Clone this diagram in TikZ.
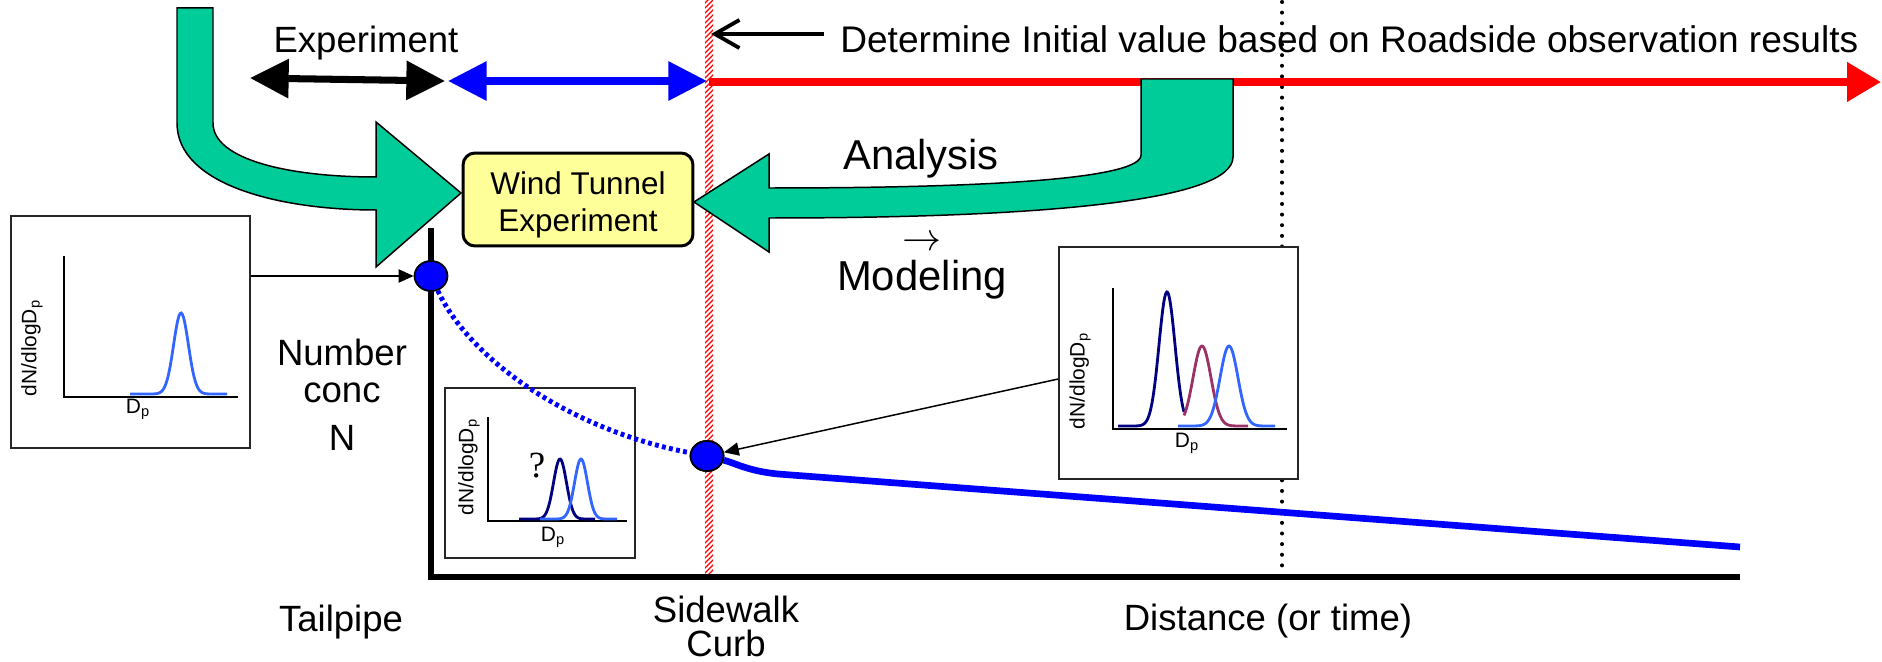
\documentclass[tikz,border=0pt]{standalone}
\usepackage{fix-cm}
\usepackage{graphicx}
\usepackage{fontspec}
\setmainfont{Liberation Sans}
\newfontfamily\qfont{Liberation Serif}
\usetikzlibrary{arrows.meta,shapes.geometric,calc}

\definecolor{arrowgreen}{RGB}{0,204,153}
\definecolor{wtyellow}{RGB}{255,255,153}
\definecolor{psdlight}{RGB}{51,102,255}
\definecolor{psdnavy}{RGB}{0,0,128}
\definecolor{psdmaroon}{RGB}{153,51,102}

\tikzset{
  lbl/.style={font=\fontsize{20.8pt}{25pt}\selectfont, inner sep=0pt},
  biglbl/.style={font=\fontsize{23.8pt}{28pt}\selectfont, inner sep=0pt},
  smalllbl/.style={font=\fontsize{11.9pt}{14pt}\selectfont, inner sep=0pt},
  wtbox/.style={draw=black, line width=1.7pt, fill=wtyellow, rounded corners=0.24cm,
    minimum width=4.6cm, minimum height=1.86cm, inner sep=0pt},
  wttext/.style={font=\fontsize{17.9pt}{21pt}\selectfont, align=center, inner sep=0pt},
  inset/.style={draw=black!85, line width=0.9pt, fill=white, inner sep=0pt},
  psdaxis/.style={line width=1.1pt},
  psdcurve/.style={line width=1.6pt},
  mainaxis/.style={line width=3.4pt},
  bigdot/.style={ellipse, draw=black, line width=1pt, fill=blue,
    minimum width=0.66cm, minimum height=0.6cm, inner sep=0pt},
  bendarrow/.style={fill=arrowgreen, draw=black, line width=0.85pt, line join=miter},
  conn/.style={line width=0.85pt, -{Triangle[length=8.5pt,width=7.5pt]}},
  spanarrow/.style={line width=4pt, {Triangle[length=22pt,width=21.5pt]}-{Triangle[length=22pt,width=21.5pt]}},
}

\begin{document}
\begin{tikzpicture}[x=0.02cm, y=-0.02cm]
\useasboundingbox (0,0) rectangle (1882,662);

% ---- reference points ----
\coordinate (expL) at (250,78);
\coordinate (expR) at (445,81);
\coordinate (modL) at (448,81);
\coordinate (curbTop) at (707,81);
\coordinate (obsL) at (709,82);
\coordinate (obsR) at (1881,82);
\coordinate (origin) at (431,577);
\coordinate (yTop) at (431,228);
\coordinate (xEnd) at (1740,577);
\coordinate (decayEnd) at (1740,547);

% ---- sidewalk curb line (hatched) ----
\begin{scope}
  \clip (705,0) rectangle (713,577);
  \fill[white] (705,0) rectangle (713,577);
  \foreach \k in {-3,...,120}
    \draw[red, line width=0.75pt] (702,{5*\k+11}) -- (716,{5*\k-3});
\end{scope}

% ---- dotted distance marker ----
\draw[line width=2.3pt, dash pattern=on 0pt off 6.05pt, line cap=round] (1282,2) -- (1282,577);

% ---- time-span arrows ----
\draw[spanarrow, black] (expL) -- (expR);
\draw[spanarrow, blue] (modL) -- (curbTop);
\draw[line width=4.5pt, red, -{Triangle[length=19.3pt,width=21.5pt]}] (obsL) -- (obsR);

% ---- labels on top ----
\node[lbl, anchor=base] (exptext) at (366,53) {Experiment};
\node[lbl, anchor=base west, font=\fontsize{21.1pt}{25pt}\selectfont] (det) at (840,53) {Determine Initial value based on Roadside observation results};
\coordinate (detArrow) at (824,34);
\coordinate (detTip) at (711,34);
\draw[line width=2.2pt, -{Straight Barb[length=14pt,width=16pt]}] (detArrow) -- (detTip);

% ---- bent green arrows ----
\draw[bendarrow] (177,8) -- (177,123)
  .. controls (177,185) and (280,210) .. (376,210)
  -- (376,267) -- (461,193) -- (376,122) -- (376,177)
  .. controls (290,177) and (213,160) .. (213,123)
  -- (213,8) -- cycle;
\draw[bendarrow] (1141,79) -- (1141,155)
  .. controls (1141,178) and (1000,188) .. (769,188)
  -- (769,154) -- (694,202) -- (769,252) -- (769,218)
  .. controls (1050,218) and (1233,200) .. (1233,157)
  -- (1233,79) -- cycle;

% ---- wind tunnel box ----
\node[wtbox] (wt) at (578,199.5) {};
\node[wttext] (wtlabel) at (578,205) {Wind Tunnel\\Experiment};

\node[biglbl, anchor=base] (ana) at (921,170) {Analysis};
\node[inner sep=0pt] (toarrow) at (921.5,243) {\resizebox{0.78cm}{!}{$\rightarrow$}};
\node[biglbl, anchor=base] (mod) at (922,290) {Modeling};

% ---- main axes ----
\draw[mainaxis] (yTop) -- (origin) -- (xEnd);

\node[lbl, anchor=base] (num) at (342,365) {Number};
\node[lbl, anchor=base] (conc) at (342,402) {conc};
\node[lbl, anchor=base] (nlbl) at (342,450) {N};

\node[lbl, anchor=base] (tail) at (341,631) {Tailpipe};
\node[lbl, anchor=base] (sidew) at (726,622) {Sidewalk};
\node[lbl, anchor=base] (curb) at (726,656) {Curb};
\node[lbl, anchor=base] (dist) at (1268,630) {Distance (or time)};

% ---- inset: distribution at the tailpipe ----
\node[inset, minimum width=4.78cm, minimum height=4.64cm] (lbox) at (130.5,332) {};
\draw[psdaxis] (64,256) -- (64,397) -- (238,397);
\draw[psdcurve, psdlight] plot[domain=130:227, samples=90, smooth]
  (\x,{394-81*exp(-(\x-181)*(\x-181)/110)});
\node[smalllbl, rotate=90] (lylab) at (32,348) {dN/dlogD\textsubscript{p}};
\node[smalllbl] (lxlab) at (138,409) {D\textsubscript{p}};

% ---- inset: unknown distribution at the curb ----
\node[inset, minimum width=3.8cm, minimum height=3.4cm] (mbox) at (540,473) {};
\draw[psdaxis] (488,417) -- (488,521) -- (627,521);
\draw[psdcurve, psdnavy] plot[domain=519:595, samples=80, smooth]
  (\x,{519-60*exp(-(\x-560)*(\x-560)/84)});
\draw[psdcurve, psdlight] plot[domain=540:617, samples=80, smooth]
  (\x,{519-60*exp(-(\x-581)*(\x-581)/84)});
\node[inner sep=0pt, font=\qfont\fontsize{21pt}{24pt}\selectfont] (qmark) at (537,466) {?};
\node[smalllbl, rotate=90] (mylab) at (469,467) {dN/dlogD\textsubscript{p}};
\node[smalllbl] (mxlab) at (553,537) {D\textsubscript{p}};

% ---- inset: measured distribution at the roadside ----
\node[inset, minimum width=4.78cm, minimum height=4.64cm] (rbox) at (1178.5,363) {};
\draw[psdaxis] (1113,288) -- (1113,429) -- (1287,429);
\draw[psdcurve, psdnavy] plot[domain=1118:1184, samples=90, smooth]
  (\x,{426-134*exp(-(\x-1167)*(\x-1167)/128)});
\draw[psdcurve, psdmaroon] plot[domain=1184:1248, samples=80, smooth]
  (\x,{426-80*exp(-(\x-1202)*(\x-1202)/160)});
\draw[psdcurve, psdlight] plot[domain=1178:1275, samples=90, smooth]
  (\x,{426-80*exp(-(\x-1229)*(\x-1229)/160)});
\node[smalllbl, rotate=90] (rylab) at (1080,381) {dN/dlogD\textsubscript{p}};
\node[smalllbl] (rxlab) at (1187,443) {D\textsubscript{p}};

% ---- concentration decay ----
\node[bigdot] (tdot) at (431,276) {};
\node[bigdot] (sdot) at (707,456) {};
\draw[blue, line width=2.8pt, dash pattern=on 2.2pt off 1.9pt]
  (tdot) .. controls (470,360) and (570,430) .. (sdot);
\draw[blue, line width=3.8pt, line join=round]
  (sdot) .. controls (735,463) and (748,471) .. (778,474) -- (decayEnd);
\node[bigdot] at (sdot) {};

% ---- inset pointers ----
\draw[conn] (lbox.east |- tdot) -- (tdot);
\draw[conn] ([yshift=-0.32cm]rbox.west) -- (sdot);

\end{tikzpicture}
\end{document}
